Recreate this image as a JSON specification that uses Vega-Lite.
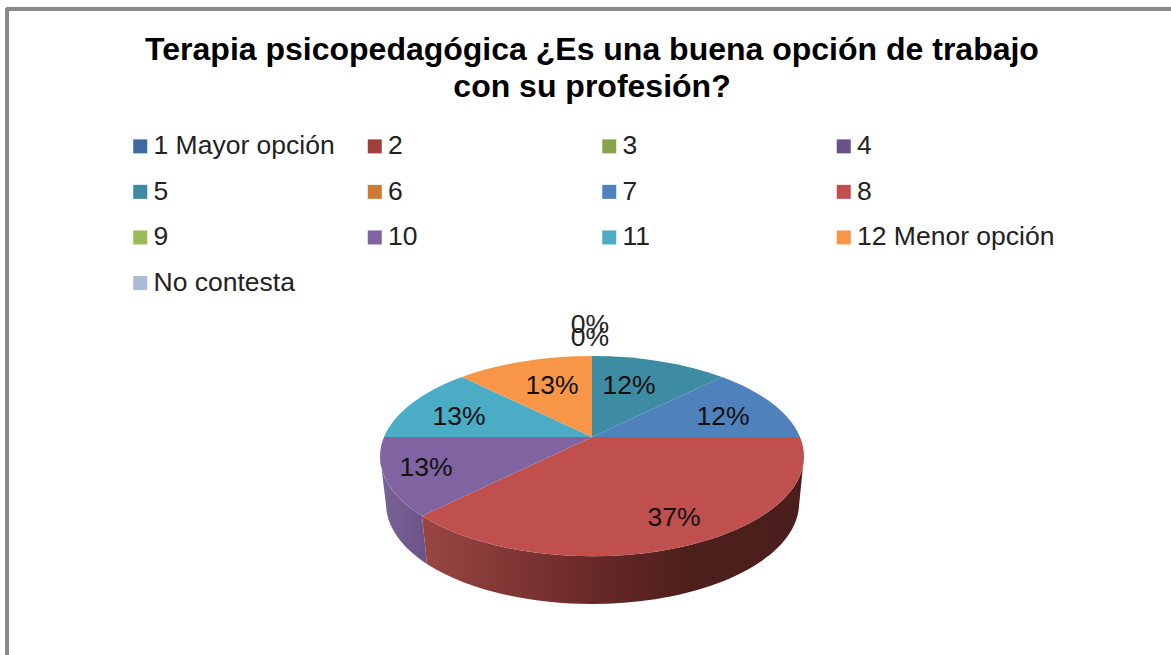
{
"$schema":"https://vega.github.io/schema/vega-lite/v6.json",
"width":1171,"height":655,"padding":0,"autosize":{"type":"none"},
"background":"white",
"view":{"stroke":null},
"title":{"text":["Terapia psicopedagógica ¿Es una buena opción de trabajo","con su profesión?"],"frame":"group","anchor":"start","align":"center","dx":592,"dy":104,"font":"Liberation Sans","fontSize":32,"fontWeight":"bold","color":"#000000","lineHeight":37,"offset":0},
"data":{"values":[
{"categoria":"1 Mayor opción","pct":0},
{"categoria":"2","pct":0},
{"categoria":"3","pct":0},
{"categoria":"4","pct":0},
{"categoria":"5","pct":0.12},
{"categoria":"6","pct":0},
{"categoria":"7","pct":0.12},
{"categoria":"8","pct":0.37},
{"categoria":"9","pct":0},
{"categoria":"10","pct":0.13},
{"categoria":"11","pct":0.13},
{"categoria":"12 Menor opción","pct":0.13},
{"categoria":"No contesta","pct":0}
]},
"layer":[
{"mark":{"type":"rule","color":"#8a8a8a","strokeWidth":3},
 "encoding":{"x":{"datum":7,"type":"quantitative","scale":{"domain":[0,1171],"nice":false,"zero":false},"axis":null},"y":{"datum":8,"type":"quantitative","scale":{"domain":[0,655],"reverse":true,"nice":false,"zero":false},"axis":null},"y2":{"datum":655}}},
{"mark":{"type":"rule","color":"#8a8a8a","strokeWidth":3},
 "encoding":{"x":{"datum":6,"type":"quantitative","axis":null},"x2":{"datum":1171},"y":{"datum":9,"type":"quantitative","axis":null}}},
{"transform":[{"filter":"datum.categoria=='10'"}],
 "mark":{"type":"point","filled":true,"opacity":1,"size":4,"strokeWidth":0,"shape":"M-212,19 A212,100 0 0 0 -170,79 L-165,127 A206,101 0 0 1 -206,68 Z","fill":{"gradient":"linear","x1":0,"y1":0,"x2":1,"y2":0,"stops":[{"offset":0,"color":"#7c6396"},{"offset":1,"color":"#6a5388"}]}},
 "encoding":{"x":{"datum":592,"type":"quantitative","axis":null},"y":{"datum":437,"type":"quantitative","axis":null}}},
{"transform":[{"filter":"datum.categoria=='8'"}],
 "mark":{"type":"point","filled":true,"opacity":1,"size":4,"strokeWidth":0,"shape":"M-170,79 A212,100 0 0 0 212,19 L207,69 A207,101 0 0 1 -165,127 Z","fill":{"gradient":"linear","x1":0,"y1":0,"x2":1,"y2":0,"stops":[{"offset":0,"color":"#9a4643"},{"offset":0.42,"color":"#6c2a29"},{"offset":0.7,"color":"#4d1f1d"},{"offset":1,"color":"#4a1e1c"}]}},
 "encoding":{"x":{"datum":592,"type":"quantitative","axis":null},"y":{"datum":437,"type":"quantitative","axis":null}}},
{"mark":{"type":"point","filled":true,"opacity":1,"size":4,"strokeWidth":0},
 "transform":[{"filter":"datum.pct>0"}],
 "encoding":{"x":{"datum":592,"type":"quantitative","axis":null},"y":{"datum":437,"type":"quantitative","axis":null},
  "shape":{"field":"categoria","type":"nominal","legend":null,"scale":{"domain":["5","7","8","10","11","12 Menor opción"],"range":["M0,0 L0,-81 A212,100 0 0 1 130,-60 Z","M0,0 L130,-60 A212,100 0 0 1 208,0 Z","M0,0 L208,0 A212,100 0 0 1 -170,79 Z","M0,0 L-170,79 A212,100 0 0 1 -208,0 Z","M0,0 L-208,0 A212,100 0 0 1 -130,-60 Z","M0,0 L-130,-60 A212,100 0 0 1 0,-81 Z"]}},
  "color":{"field":"categoria","type":"nominal","sort":null,
   "scale":{"domain":["1 Mayor opción","2","3","4","5","6","7","8","9","10","11","12 Menor opción","No contesta"],
    "range":["#3d6a9f","#a03f3c","#86a44a","#6a4f8b","#3d8ca3","#cd7a36","#4f81bd","#c0504d","#9bbb59","#8064a2","#4bacc6","#f79646","#aabad7"]},
   "legend":{"orient":"none","legendX":127,"legendY":133,"title":null,"direction":"horizontal","columns":4,"gridAlign":"all","columnPadding":10.5,"rowPadding":18.6,"padding":0,"symbolType":"square","symbolSize":196,"symbolStrokeWidth":0,"symbolOpacity":1,"labelFont":"Liberation Sans","labelFontSize":26.5,"labelColor":"#222222","labelOffset":0,"labelLimit":400}}}},
{"transform":[{"filter":"datum.categoria=='1 Mayor opción'"}],"mark":{"type":"text","font":"Liberation Sans","fontSize":26.5,"color":"#222222"},
 "encoding":{"x":{"datum":590,"type":"quantitative","axis":null},"y":{"datum":325,"type":"quantitative","axis":null},"text":{"field":"pct","type":"quantitative","format":".0%"}}},
{"transform":[{"filter":"datum.categoria=='No contesta'"}],"mark":{"type":"text","font":"Liberation Sans","fontSize":26.5,"color":"#222222"},
 "encoding":{"x":{"datum":590,"type":"quantitative","axis":null},"y":{"datum":338,"type":"quantitative","axis":null},"text":{"field":"pct","type":"quantitative","format":".0%"}}},
{"transform":[{"filter":"datum.categoria=='5'"}],"mark":{"type":"text","font":"Liberation Sans","fontSize":26.5,"color":"#111111"},
 "encoding":{"x":{"datum":629,"type":"quantitative","axis":null},"y":{"datum":386,"type":"quantitative","axis":null},"text":{"field":"pct","type":"quantitative","format":".0%"}}},
{"transform":[{"filter":"datum.categoria=='7'"}],"mark":{"type":"text","font":"Liberation Sans","fontSize":26.5,"color":"#111111"},
 "encoding":{"x":{"datum":723,"type":"quantitative","axis":null},"y":{"datum":417,"type":"quantitative","axis":null},"text":{"field":"pct","type":"quantitative","format":".0%"}}},
{"transform":[{"filter":"datum.categoria=='8'"}],"mark":{"type":"text","font":"Liberation Sans","fontSize":26.5,"color":"#111111"},
 "encoding":{"x":{"datum":674,"type":"quantitative","axis":null},"y":{"datum":518,"type":"quantitative","axis":null},"text":{"field":"pct","type":"quantitative","format":".0%"}}},
{"transform":[{"filter":"datum.categoria=='10'"}],"mark":{"type":"text","font":"Liberation Sans","fontSize":26.5,"color":"#111111"},
 "encoding":{"x":{"datum":426,"type":"quantitative","axis":null},"y":{"datum":468,"type":"quantitative","axis":null},"text":{"field":"pct","type":"quantitative","format":".0%"}}},
{"transform":[{"filter":"datum.categoria=='11'"}],"mark":{"type":"text","font":"Liberation Sans","fontSize":26.5,"color":"#111111"},
 "encoding":{"x":{"datum":459,"type":"quantitative","axis":null},"y":{"datum":417,"type":"quantitative","axis":null},"text":{"field":"pct","type":"quantitative","format":".0%"}}},
{"transform":[{"filter":"datum.categoria=='12 Menor opción'"}],"mark":{"type":"text","font":"Liberation Sans","fontSize":26.5,"color":"#111111"},
 "encoding":{"x":{"datum":552,"type":"quantitative","axis":null},"y":{"datum":386,"type":"quantitative","axis":null},"text":{"field":"pct","type":"quantitative","format":".0%"}}}
]
}
